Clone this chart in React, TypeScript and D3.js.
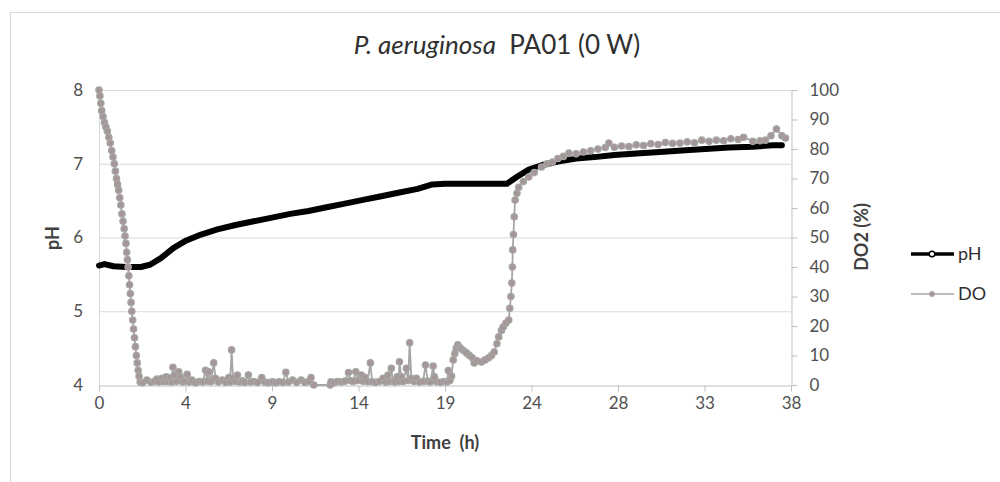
import { useEffect, useRef } from 'react';
import * as d3 from 'd3';

// time (h), pH
const phData: [number, number][] = [
  [0, 5.62], [0.3, 5.64], [0.8, 5.61], [1.5, 5.6], [2.3, 5.6], [2.8, 5.63],
  [3.4, 5.72], [4.1, 5.86], [4.8, 5.96], [5.6, 6.04], [6.5, 6.11], [7.5, 6.17],
  [8.5, 6.22], [9.5, 6.27], [10.5, 6.32], [11.5, 6.36], [12.5, 6.41], [13.5, 6.46],
  [14.5, 6.51], [15.5, 6.56], [16.5, 6.61], [17.5, 6.66], [18.3, 6.72], [19, 6.73],
  [20, 6.73], [21, 6.73], [22.4, 6.73], [23.0, 6.83], [23.6, 6.92], [24.3, 6.98],
  [25.2, 7.03], [26.2, 7.07], [27.2, 7.09], [28.3, 7.12], [29.5, 7.14], [30.8, 7.16],
  [32, 7.18], [33.3, 7.2], [34.6, 7.22], [35.9, 7.23], [37.0, 7.25], [37.5, 7.25],
];

// time (h), DO2 (%)
const doData: [number, number][] = [
  // initial drop
  [0, 100], [0.05, 98], [0.1, 95.5], [0.15, 93], [0.22, 91], [0.3, 89], [0.38, 87.5],
  [0.46, 86], [0.54, 84], [0.62, 82], [0.7, 79.5], [0.77, 77.3], [0.84, 75], [0.9, 72.5],
  [0.96, 70], [1.02, 68], [1.08, 66], [1.14, 63.5], [1.2, 61], [1.26, 58], [1.32, 55.5],
  [1.38, 53], [1.43, 50.5], [1.48, 48], [1.52, 45], [1.56, 42.5], [1.6, 40], [1.64, 37],
  [1.68, 34], [1.72, 31], [1.76, 28], [1.8, 25], [1.85, 22], [1.9, 19], [1.95, 16],
  [2.0, 13], [2.05, 10], [2.1, 7.5], [2.15, 5], [2.2, 3], [2.26, 1],
  // near zero with spikes
  [2.4, 0.8], [2.63, 1.7], [2.85, 0.9], [3.05, 1.2], [3.18, 2], [3.3, 1], [3.46, 2.3],
  [3.58, 1.1], [3.7, 2.8], [3.8, 1.2], [3.88, 2.4], [3.98, 1], [4.06, 6], [4.14, 3.4],
  [4.25, 1.2], [4.38, 4.5], [4.47, 2.8], [4.6, 1], [4.72, 1.3], [4.84, 3.6], [4.95, 1],
  [5.1, 1.7], [5.3, 0.8], [5.5, 1.2], [5.7, 1], [5.85, 5], [5.95, 1.3], [6.03, 4.5],
  [6.15, 1.1], [6.3, 7.5], [6.4, 2.3], [6.55, 1], [6.77, 1.7], [6.95, 0.9], [7.13, 2.5],
  [7.2, 1], [7.28, 11.9], [7.36, 2.3], [7.5, 1.2], [7.6, 3.4], [7.72, 1], [7.87, 1.4],
  [8.0, 0.9], [8.2, 3.4], [8.32, 1], [8.5, 1.2], [8.7, 0.9], [8.94, 2.5], [9.1, 1],
  [9.3, 0.8], [9.52, 1.1], [9.7, 0.8], [9.9, 1.1], [10.1, 0.9], [10.26, 4.3], [10.4, 1],
  [10.63, 1.7], [10.85, 0.9], [11.1, 1.7], [11.3, 0.9], [11.5, 1.1], [11.64, 2.5],
  [11.8, 0], [12.7, 0],
  [12.74, 1.1], [12.9, 0.8], [13.1, 1.2], [13.3, 1], [13.5, 1.3], [13.7, 4.2], [13.8, 1.5],
  [13.95, 1.2], [14.1, 4.5], [14.2, 1.5], [14.4, 3.4], [14.5, 1.3], [14.6, 2.6], [14.75, 1.1],
  [14.9, 7.5], [15.0, 1.1], [15.2, 0.9], [15.4, 1.2], [15.6, 2.3], [15.75, 1], [15.87, 3.4],
  [15.95, 1.2], [16.05, 5.7], [16.15, 1.3], [16.25, 1], [16.38, 2.8], [16.45, 1.2], [16.5, 7.9],
  [16.6, 2.8], [16.7, 1.2], [16.88, 5.7], [16.97, 1.5], [17.06, 14.3], [17.15, 2.3], [17.3, 1.2],
  [17.43, 2.3], [17.6, 1], [17.8, 1.2], [17.93, 6.8], [18.05, 1.3], [18.2, 1], [18.35, 6.4],
  [18.42, 2.8], [18.55, 1.1], [18.75, 0.9], [18.95, 1.2], [19.1, 1], [19.18, 4.9], [19.27, 1.5],
  [19.36, 3],
  // first bump and recovery
  [19.45, 8.5], [19.54, 10.7], [19.62, 12.5], [19.7, 13.6], [19.8, 12.8], [19.9, 12.2],
  [20.05, 11.5], [20.2, 10.8], [20.35, 10], [20.5, 9.2], [20.6, 7.5], [20.75, 8.2], [21.0, 7.8],
  [21.2, 8.5], [21.4, 9.2], [21.55, 10], [21.7, 11.2], [21.85, 14], [21.95, 16.3], [22.1, 18.5],
  [22.2, 19.7], [22.35, 21], [22.5, 22], [22.56, 26], [22.62, 30], [22.67, 34.6], [22.7, 40],
  [22.72, 45.8], [22.76, 51], [22.8, 57], [22.85, 62.7], [22.95, 65], [23.05, 67], [23.3, 69],
  [23.6, 70.5], [23.9, 72], [24.3, 73.9], [24.6, 75], [24.9, 75.6], [25.2, 76.8], [25.5, 77.5],
  [25.8, 78.6], [26.2, 78.4], [26.6, 79], [27.0, 79.4], [27.4, 80], [27.8, 80.5], [28.0, 82],
  [28.3, 80.6], [28.7, 81], [29.1, 80.8], [29.5, 81.4], [29.9, 81.2], [30.3, 81.8], [30.7, 81.5],
  [31.1, 82.2], [31.5, 81.9], [31.9, 82], [32.3, 82.4], [32.7, 82.1], [33.1, 83], [33.5, 82.6],
  [33.9, 83], [34.3, 82.8], [34.7, 83.5], [35.1, 83.2], [35.4, 84], [35.9, 82.6], [36.3, 82.8],
  [36.6, 83], [36.9, 84.5], [37.2, 86.8], [37.5, 84.5], [37.7, 83.7],
];

const xTickLabels = ['0', '4', '9', '14', '19', '24', '28', '33', '38'];
const phTicks = [4, 5, 6, 7, 8];
const doTicks = [0, 10, 20, 30, 40, 50, 60, 70, 80, 90, 100];

const FONT = 'Lato, "Open Sans", sans-serif';

const App = () => {
  const svgRef = useRef<SVGSVGElement>(null);

  useEffect(() => {
    if (!svgRef.current) return;
    const svg = d3.select(svgRef.current);
    svg.selectAll('*').remove();

    const left = 99, right = 791, top = 90, bottom = 385;
    const x = d3.scaleLinear().domain([0, 38]).range([left, right]);
    const yPh = d3.scaleLinear().domain([4, 8]).range([bottom, top]);
    const yDo = d3.scaleLinear().domain([0, 100]).range([bottom, top]);

    svg.append('rect').attr('width', 1000).attr('height', 482).attr('fill', 'white');
    svg.append('rect')
      .attr('x', 10.5).attr('y', 12.5).attr('width', 1100).attr('height', 600)
      .attr('fill', 'none').attr('stroke', '#d9d9d9');

    // title
    const title = svg.append('text')
      .attr('x', 497).attr('y', 54)
      .attr('text-anchor', 'middle')
      .attr('font-family', FONT).attr('font-size', 26).attr('fill', '#303030');
    title.append('tspan').attr('font-style', 'italic').text('P. aeruginosa');
    title.append('tspan').text('\u00a0 PA01 (0 W)');

    // gridlines
    svg.append('g').selectAll('line')
      .data(phTicks.slice(1))
      .enter().append('line')
      .attr('x1', left).attr('x2', right)
      .attr('y1', d => yPh(d) + 0.5).attr('y2', d => yPh(d) + 0.5)
      .attr('stroke', '#d9d9d9');
    svg.append('line')
      .attr('x1', left + 0.5).attr('x2', left + 0.5).attr('y1', top).attr('y2', bottom)
      .attr('stroke', '#d9d9d9');

    // axes
    const styleAxis = (g: any) => {
      g.selectAll('text').attr('font-family', FONT).attr('font-size', 17).attr('fill', '#505050');
      g.selectAll('line').attr('stroke', '#bfbfbf');
      g.select('.domain').attr('stroke', '#bfbfbf');
    };

    const tickPos = xTickLabels.map((_, i) => (i * 38) / (xTickLabels.length - 1));
    svg.append('g')
      .attr('transform', `translate(0,${bottom + 0.5})`)
      .call(d3.axisBottom(x).tickValues(tickPos).tickFormat((_d, i) => xTickLabels[i]).tickSize(6).tickSizeOuter(0).tickPadding(5))
      .call(styleAxis);

    svg.append('g')
      .attr('transform', `translate(${left},0)`)
      .call(d3.axisLeft(yPh).tickValues(phTicks).tickFormat(d3.format('d')).tickSize(0).tickPadding(16))
      .call(styleAxis)
      .call(g => g.select('.domain').remove());

    svg.append('g')
      .attr('transform', `translate(${right + 0.5},0)`)
      .call(d3.axisRight(yDo).tickValues(doTicks).tickSize(6).tickSizeOuter(0).tickPadding(12))
      .call(styleAxis);

    // axis titles
    const axisTitle = (tx: number, ty: number, rot: number, label: string) =>
      svg.append('text')
        .attr('transform', `translate(${tx},${ty}) rotate(${rot})`)
        .attr('text-anchor', 'middle').attr('dy', '0.35em')
        .attr('font-family', FONT).attr('font-size', 18).attr('font-weight', 'bold')
        .attr('fill', '#404040')
        .style('white-space', 'pre')
        .text(label);
    axisTitle(53, 238, -90, 'pH');
    axisTitle(862, 237, -90, 'DO2 (%)');
    axisTitle(445, 443, 0, 'Time  (h)');

    // pH series
    const phLine = d3.line<[number, number]>().x(d => x(d[0])).y(d => yPh(d[1]));
    svg.append('path')
      .datum(phData)
      .attr('d', phLine)
      .attr('fill', 'none').attr('stroke', '#000').attr('stroke-width', 6)
      .attr('stroke-linecap', 'round').attr('stroke-linejoin', 'round');

    // DO series
    const doLine = d3.line<[number, number]>().x(d => x(d[0])).y(d => yDo(d[1]));
    svg.append('path')
      .datum(doData)
      .attr('d', doLine)
      .attr('fill', 'none').attr('stroke', '#a6a6a6').attr('stroke-width', 1.8);
    svg.append('g').selectAll('circle')
      .data(doData)
      .enter().append('circle')
      .attr('cx', d => x(d[0])).attr('cy', d => yDo(d[1]))
      .attr('r', 3.2)
      .attr('fill', '#a69797').attr('stroke', '#a6a6a6').attr('stroke-width', 1.2);

    // legend
    const lg = svg.append('g').attr('font-family', FONT).attr('font-size', 18).attr('fill', '#303030');
    lg.append('line').attr('x1', 911).attr('x2', 954).attr('y1', 254).attr('y2', 254)
      .attr('stroke', '#000').attr('stroke-width', 3.5);
    lg.append('circle').attr('cx', 932).attr('cy', 254).attr('r', 2.8)
      .attr('fill', '#fff').attr('stroke', '#000').attr('stroke-width', 1.5);
    lg.append('text').attr('x', 958).attr('y', 254).attr('dy', '0.35em').text('pH');
    lg.append('line').attr('x1', 911).attr('x2', 954).attr('y1', 294).attr('y2', 294)
      .attr('stroke', '#a6a6a6').attr('stroke-width', 1.5);
    lg.append('circle').attr('cx', 932).attr('cy', 294).attr('r', 2.5)
      .attr('fill', '#a69797').attr('stroke', '#a6a6a6');
    lg.append('text').attr('x', 958).attr('y', 294).attr('dy', '0.35em').text('DO');
  }, []);

  return (
    <svg
      ref={svgRef}
      width={1000}
      height={482}
      style={{ position: 'absolute', left: 0, top: 0, display: 'block' }}
    />
  );
};

export default App;
